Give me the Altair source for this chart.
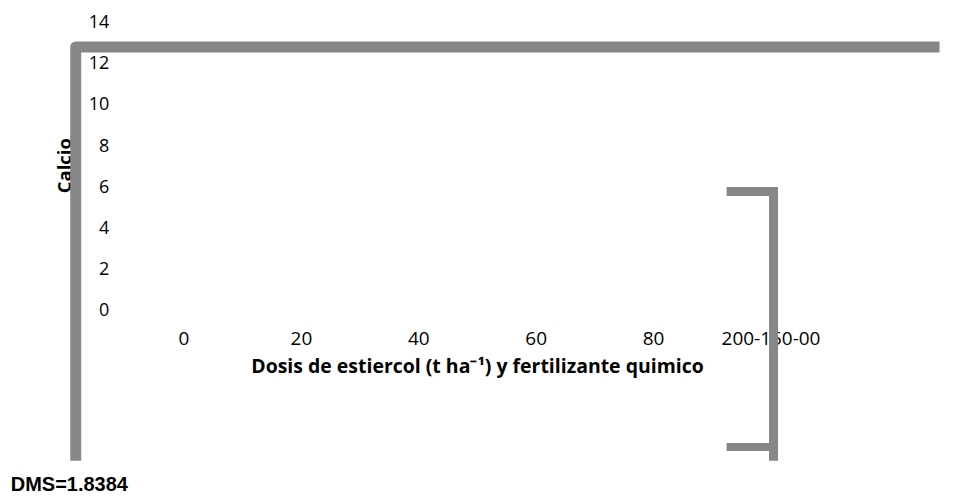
import json
import altair as alt
import pandas as pd

# Axis categories and tick values
categories = ["0", "20", "40", "60", "80", "200-150-00"]
y_ticks = [0, 2, 4, 6, 8, 10, 12, 14]
dms_label = "DMS=1.8384"

# Decorative outline paths (data units: x = category index, y = Calcio)
frame_x = [-0.918, -0.918, 6.44]
frame_y = [-7.27, 12.81, 12.81]
bracket_x = [4.626, 5.026, 5.026]
bracket_y = [5.79, 5.79, -7.27]
cap_x = [4.626, 5.026]
cap_y = [-6.61, -6.61]
dms_x = [-1.471]
dms_y = [-8.45]

GRAY = "#878787"
LABEL_FONT = "Open Sans"

label_expr = json.dumps(categories) + "[datum.value]"

x_enc = alt.X(
    "x:Q",
    scale=alt.Scale(domain=[-0.5, len(categories) - 0.5], nice=False, zero=False),
    axis=alt.Axis(
        values=list(range(len(categories))),
        labelExpr=label_expr,
        title="Dosis de estiercol (t ha\u207b\u00b9) y fertilizante quimico",
        domain=False,
        ticks=False,
        grid=False,
        labelFont=LABEL_FONT,
        labelFontSize=19,
        labelColor="#000000",
        labelPadding=19,
        titleFont=LABEL_FONT,
        titleFontSize=19.5,
        titleFontWeight="bold",
        titleColor="#000000",
        titlePadding=9,
    ),
)
y_enc = alt.Y(
    "y:Q",
    scale=alt.Scale(domain=[0, 14], nice=False, zero=False),
    axis=alt.Axis(
        values=y_ticks,
        title="Calcio",
        domain=False,
        ticks=False,
        grid=False,
        labelFont=LABEL_FONT,
        labelFontSize=18,
        labelColor="#000000",
        labelPadding=16,
        titleFont=LABEL_FONT,
        titleFontSize=18.5,
        titleFontWeight="bold",
        titleColor="#000000",
        titleX=-54,
        titleY=143,
        titleAlign="center",
        titleBaseline="alphabetic",
        titleAngle=270,
    ),
)

frame_df = pd.DataFrame({"x": frame_x, "y": frame_y, "o": range(len(frame_x))})
bracket_df = pd.DataFrame({"x": bracket_x, "y": bracket_y, "o": range(len(bracket_x))})
cap_df = pd.DataFrame({"x": cap_x, "y": cap_y, "o": range(len(cap_x))})
dms_df = pd.DataFrame({"x": dms_x, "y": dms_y, "t": [dms_label]})

frame = alt.Chart(frame_df).mark_line(
    color=GRAY, strokeWidth=11, strokeJoin="round", strokeCap="butt"
).encode(x=x_enc, y=y_enc, order="o:Q")

bracket = alt.Chart(bracket_df).mark_line(
    color=GRAY, strokeWidth=9, strokeJoin="miter", strokeCap="butt"
).encode(x="x:Q", y="y:Q", order="o:Q")

cap = alt.Chart(cap_df).mark_line(
    color=GRAY, strokeWidth=8, strokeCap="butt"
).encode(x="x:Q", y="y:Q", order="o:Q")

dms = alt.Chart(dms_df).mark_text(
    align="left", baseline="middle", font="Liberation Sans",
    fontSize=20, fontWeight="bold", color="#000000"
).encode(x="x:Q", y="y:Q", text="t:N")

chart = alt.layer(frame, bracket, cap, dms).properties(
    width=705.6,
    height=289,
    padding={"left": 2, "top": 5, "right": 0, "bottom": 0},
).configure(
    background="#ffffff",
    view=alt.ViewConfig(strokeWidth=0, stroke="transparent"),
)

chart.save("out.html", embed_options={"renderer": "svg", "actions": False})
